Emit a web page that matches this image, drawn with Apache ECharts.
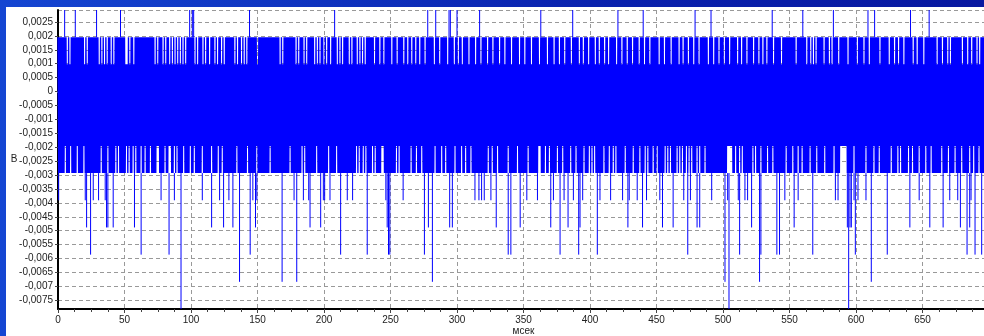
<!DOCTYPE html>
<html>
<head>
<meta charset="utf-8">
<script src="https://cdn.jsdelivr.net/npm/echarts@6/dist/echarts.min.js"></script>
<style>
  html, body { margin: 0; padding: 0; }
  body {
    width: 984px; height: 336px; overflow: hidden; position: relative;
    background: linear-gradient(to right, #1546d2, #0a22ae 60%, #0818a0);
  }
  #chart {
    position: absolute; left: 6px; top: 7px; width: 978px; height: 329px;
    background: #fff;
  }
</style>
</head>
<body>
<div id="chart"></div>
<script>
// signal is quantized, values below are in ADC steps (1 step ~ 0,00098 V)
const STEP = 0.0009765625;
const bandHigh = 2;   // usual upper level of the dense band
const bandLow = -3;   // usual lower level of the dense band

// ms positions where the upper swing only reached +1 step (white hairlines)
const topGaps = [7, 9, 20, 22, 31, 33, 35, 37, 40, 42, 51, 52, 54, 57, 73, 75, 79, 81, 84, 86, 88, 90,
  92, 94, 96, 103, 105, 109, 111, 114, 118, 120, 123, 125, 133, 135, 138, 140, 142, 150, 167, 169,
  179, 181, 185, 187, 193, 195, 197, 200, 202, 205, 210, 212, 214, 219, 221, 225, 227, 229, 231,
  238, 242, 245, 251, 255, 260, 263, 266, 269, 272, 276, 283, 287, 293, 298, 301, 304, 309, 314,
  318, 323, 327, 332, 336, 341, 347, 351, 356, 362, 368, 373, 377, 381, 386, 392, 395, 399, 404,
  407, 411, 414, 420, 424, 428, 432, 437, 441, 445, 452, 456, 461, 467, 470, 474, 478, 482, 489,
  493, 497, 501, 505, 511, 514, 518, 523, 527, 530, 533, 538, 544, 555, 563, 566, 568, 570, 576,
  580, 582, 587, 594, 601, 606, 610, 618, 625, 629, 632, 636, 643, 646, 651, 661, 665, 669, 671,
  680, 684, 687, 691, 693];

// ms positions of the +3 step spikes (to the top edge)
const topSpikes = [5, 13, 29, 47, 99, 101, 102, 144, 208, 278, 284, 294, 295, 300, 317, 363, 387,
  421, 440, 479, 491, 537, 560, 583, 609, 614, 641, 655];

// ms positions where the lower swing only reached -2 steps
const bottomGaps = [5, 9, 14, 19, 32, 37, 43, 45, 51, 53, 56, 58, 62, 65, 69, 74, 75, 80, 83, 84, 87,
  89, 94, 99, 102, 108, 115, 120, 123, 134, 142, 149, 159, 174, 183, 185, 194, 203, 209, 224, 226,
  229, 231, 236, 238, 243, 244, 254, 256, 265, 269, 273, 283, 288, 291, 298, 303, 306, 310, 323,
  326, 330, 338, 345, 353, 361, 362, 366, 369, 375, 379, 385, 389, 395, 399, 401, 403, 410, 414,
  417, 419, 426, 432, 437, 441, 443, 447, 450, 456, 458, 460, 465, 467, 469, 472, 474, 476, 480,
  482, 486, 503, 504, 505, 506, 509, 512, 514, 522, 524, 528, 533, 537, 547, 552, 556, 559, 565,
  570, 576, 583, 588, 589, 590, 591, 592, 598, 607, 613, 617, 626, 631, 633, 639, 642, 647, 652,
  656, 664, 669, 674, 679, 685, 688, 692];

// [ms, level in steps] negative spikes below the band
const bottomSpikes = [[0, -4], [20, -4], [21, -5], [24, -6], [26, -4], [30, -4], [35, -4], [36, -5],
  [37, -5], [41, -5], [57, -5], [62, -6], [77, -4], [83, -6], [87, -4], [92, -8], [108, -4], [115, -5],
  [121, -4], [124, -5], [128, -4], [131, -5], [136, -7], [144, -6], [146, -4], [148, -5], [149, -4],
  [168, -7], [177, -4], [179, -7], [184, -4], [188, -4], [189, -5], [197, -5], [199, -4], [200, -4],
  [204, -4], [212, -6], [217, -4], [221, -4], [232, -6], [246, -4], [247, -5], [248, -6], [249, -6],
  [259, -4], [275, -6], [278, -5], [281, -7], [294, -5], [296, -5], [313, -4], [316, -4], [318, -4],
  [320, -4], [325, -4], [329, -5], [338, -6], [340, -6], [347, -5], [352, -4], [360, -4], [370, -5],
  [372, -4], [377, -6], [380, -4], [383, -5], [387, -4], [391, -6], [392, -5], [394, -4], [405, -6],
  [407, -4], [415, -4], [424, -4], [428, -5], [429, -4], [435, -4], [439, -5], [442, -4], [452, -4],
  [454, -5], [462, -5], [470, -4], [473, -6], [475, -4], [480, -5], [482, -5], [491, -4], [501, -7],
  [503, -4], [504, -8], [511, -4], [512, -6], [516, -4], [518, -4], [521, -5], [527, -7], [528, -6],
  [540, -6], [542, -6], [546, -4], [553, -5], [556, -4], [567, -6], [584, -4], [586, -4], [593, -5],
  [594, -8], [595, -5], [596, -5], [598, -4], [599, -6], [601, -4], [607, -4], [611, -7], [623, -6],
  [640, -5], [647, -4], [655, -5], [665, -5], [670, -4], [676, -4], [678, -5], [683, -6], [685, -5],
  [686, -4], [689, -6], [694, -6]];

const xMax = 700;
const yMin = -8 * STEP, yMax = 3 * STEP;

let hi = {}, lo = {};
topGaps.forEach(t => hi[t] = 1);
bottomGaps.forEach(t => lo[t] = -2);

// dense band: zigzag between upper and lower swing
let band = [];
for (let i = 0; i < xMax; i++) {
  band.push([i, (hi[i] !== undefined ? hi[i] : bandHigh) * STEP]);
  band.push([i + 0.5, (lo[i] !== undefined ? lo[i] : bandLow) * STEP]);
}

// spikes: thin single strokes leaving the band
let spikes = [];
topSpikes.forEach(t => {
  spikes.push([t, bandHigh * STEP], [t, 3 * STEP], '-');
});
bottomSpikes.forEach(s => {
  spikes.push([s[0] + 0.5, bandLow * STEP], [s[0] + 0.5, s[1] * STEP], '-');
});

const fmt = v => String(+(+v).toFixed(4)).replace('.', ',');
const font = '"Liberation Sans", Arial, sans-serif';

let myChart = echarts.init(document.getElementById('chart'), null, {renderer: 'canvas'});
let option = {
  animation: false,
  backgroundColor: '#fff',
  grid: {left: 52, top: 3, right: -5, bottom: 27, outerBoundsMode: 'none', containLabel: false},
  xAxis: [{
    type: 'value',
    min: 0, max: xMax,
    minInterval: 50, maxInterval: 50,
    name: 'мсек',
    nameLocation: 'middle',
    nameGap: 17,
    nameMoveOverlap: false,
    nameTextStyle: {fontFamily: font, fontSize: 10, color: '#222'},
    axisLine: {onZero: false, lineStyle: {color: '#000', width: 2}},
    axisTick: {length: 4, lineStyle: {color: '#444'}},
    minorTick: {show: true, splitNumber: 4, length: 3, lineStyle: {color: '#444'}},
    axisLabel: {fontFamily: font, fontSize: 10, color: '#222', margin: 6, showMaxLabel: false},
    splitLine: {show: true, lineStyle: {color: '#999', type: [4, 3]}}
  }, {
    type: 'value', position: 'top', min: 0, max: xMax,
    axisLine: {lineStyle: {color: '#8a8a8a', width: 2}},
    axisTick: {show: false}, axisLabel: {show: false}, splitLine: {show: false}
  }],
  yAxis: {
    type: 'value',
    min: yMin, max: yMax,
    minInterval: 0.0005, maxInterval: 0.0005,
    name: 'В',
    nameLocation: 'middle',
    nameRotate: 0,
    nameGap: 44,
    nameMoveOverlap: false,
    nameTextStyle: {fontFamily: font, fontSize: 10, color: '#222', align: 'center'},
    axisLine: {show: true, onZero: false, lineStyle: {color: '#000', width: 2}},
    axisTick: {show: true, length: 3, lineStyle: {color: '#444'}},
    axisLabel: {fontFamily: font, fontSize: 10, color: '#222', margin: 5,
      showMinLabel: false, showMaxLabel: false, formatter: fmt},
    splitLine: {show: true, lineStyle: {color: '#999', type: [4, 3]}}
  },
  series: [{
    type: 'line',
    data: band,
    symbol: 'none',
    sampling: false,
    lineStyle: {color: '#0000ff', width: 1.4},
    z: 1
  }, {
    type: 'line',
    data: spikes,
    symbol: 'none',
    sampling: false,
    connectNulls: false,
    lineStyle: {color: '#0000ff', width: 1},
    z: 2
  }]
};
option && myChart.setOption(option);
</script>
</body>
</html>
